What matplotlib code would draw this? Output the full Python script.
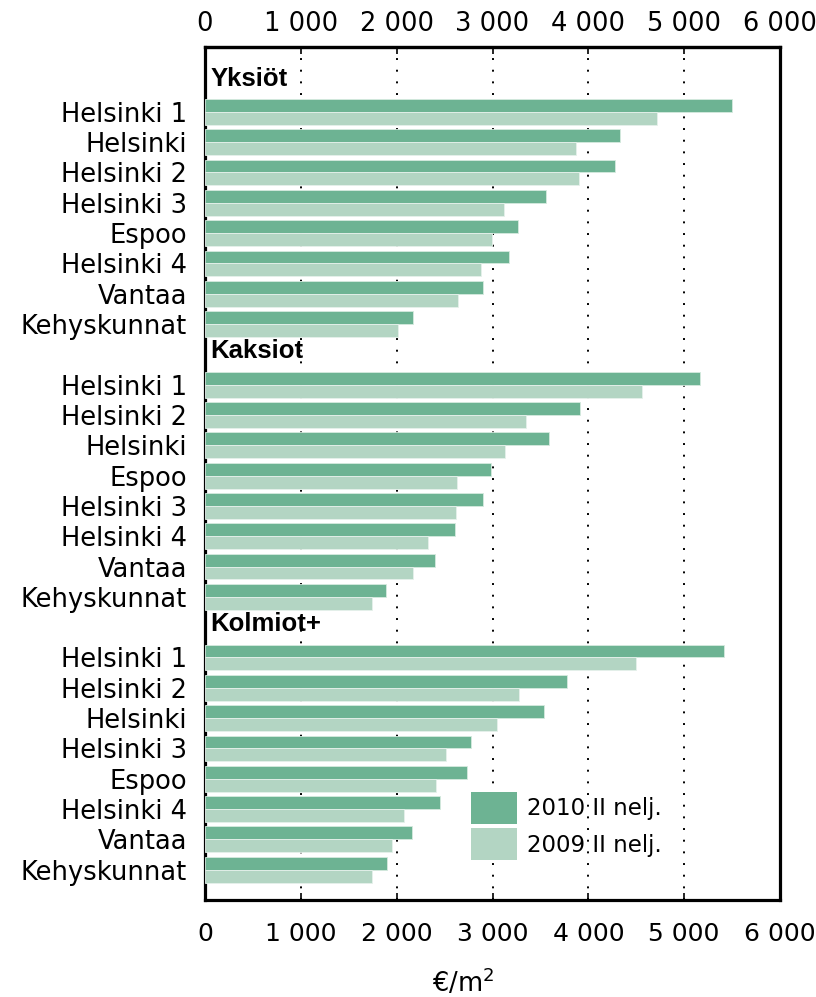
import numpy as np
import matplotlib
matplotlib.use("Agg")
import matplotlib.pyplot as plt
from matplotlib.patches import Patch

# --- Data ---

groups = ["Yksiöt", "Kaksiot", "Kolmiot+"]

yksiot_labels = ["Helsinki 1", "Helsinki", "Helsinki 2", "Helsinki 3",
                 "Espoo", "Helsinki 4", "Vantaa", "Kehyskunnat"]
yksiot_2010 = [5500, 4330, 4280, 3555, 3265, 3170, 2900, 2175]
yksiot_2009 = [4715, 3875, 3905, 3125, 2995, 2885, 2640, 2015]

kaksiot_labels = ["Helsinki 1", "Helsinki 2", "Helsinki", "Espoo",
                  "Helsinki 3", "Helsinki 4", "Vantaa", "Kehyskunnat"]
kaksiot_2010 = [5165, 3910, 3585, 2985, 2905, 2605, 2400, 1885]
kaksiot_2009 = [4555, 3345, 3130, 2625, 2615, 2325, 2175, 1745]

kolmiot_labels = ["Helsinki 1", "Helsinki 2", "Helsinki", "Helsinki 3",
                  "Espoo", "Helsinki 4", "Vantaa", "Kehyskunnat"]
kolmiot_2010 = [5420, 3775, 3540, 2775, 2735, 2450, 2155, 1900]
kolmiot_2009 = [4495, 3280, 3050, 2515, 2415, 2080, 1955, 1745]

series_names = ["2010 II nelj.", "2009 II nelj."]
xticks = [0, 1000, 2000, 3000, 4000, 5000, 6000]
xtick_labels = ["0", "1 000", "2 000", "3 000", "4 000", "5 000", "6 000"]

col_2010 = "#6db393"
col_2009 = "#b3d5c3"

# --- Build rows: header slot followed by the group's categories ---

sections = [
    (groups[0], yksiot_labels, yksiot_2010, yksiot_2009),
    (groups[1], kaksiot_labels, kaksiot_2010, kaksiot_2009),
    (groups[2], kolmiot_labels, kolmiot_2010, kolmiot_2009),
]

header_pos = []
row_pos, row_labels, vals_2010, vals_2009 = [], [], [], []
slot = 0
for name, labels, v10, v09 in sections:
    header_pos.append((slot, name))
    slot += 1
    for lab, a, b in zip(labels, v10, v09):
        row_pos.append(slot)
        row_labels.append(lab)
        vals_2010.append(a)
        vals_2009.append(b)
        slot += 1
row_pos = np.array(row_pos)

# --- Plot ---

fig = plt.figure(figsize=(8.16, 9.97), dpi=100)
ax = fig.add_axes([205 / 816, 97 / 997, 575 / 816, 853 / 997])

bh = 0.425
ax.barh(row_pos - bh / 2, vals_2010, height=bh, color=col_2010,
        edgecolor="#d6eadf", linewidth=0.6, zorder=3)
ax.barh(row_pos + bh / 2, vals_2009, height=bh, color=col_2009,
        edgecolor="#e6f1eb", linewidth=0.6, zorder=3)

for y, name in header_pos:
    ax.text(60, y - 0.1, name, ha="left", va="center", fontsize=18.5,
            fontweight="bold", family="Liberation Sans", zorder=4)

for x in xticks[1:-1]:
    ax.axvline(x, color="black", linestyle=(0, (1, 5)), linewidth=1.4, zorder=1)

ax.set_xlim(0, 6000)
ax.set_ylim(slot, -1.14)

ax.set_yticks(row_pos)
ax.set_yticklabels(row_labels, fontsize=18.5)
ax.tick_params(axis="y", length=0, pad=13)

ax.set_xticks(xticks)
ax.set_xticklabels(xtick_labels, fontsize=18)
ax.tick_params(axis="x", direction="in", length=5, width=1.2,
               top=False, bottom=True, pad=16)

top = ax.secondary_xaxis("top")
top.set_xticks(xticks)
top.set_xticklabels(xtick_labels, fontsize=18.5)
top.tick_params(axis="x", direction="in", length=5, width=1.2, pad=7)
top.spines["top"].set_linewidth(2.3)

for sp in ax.spines.values():
    sp.set_linewidth(2.3)
    sp.set_color("black")

fig.text(463 / 816, 1 - 983 / 997, "€/m$^2$", ha="center", va="center",
         fontsize=18.5)

handles = [Patch(facecolor=col_2010, edgecolor="none"),
           Patch(facecolor=col_2009, edgecolor="none")]
ax.legend(handles, series_names, loc="upper left",
          bbox_to_anchor=((471 - 205) / 575, (900 - 792) / 853),
          frameon=False, fontsize=16.5, borderpad=0, borderaxespad=0,
          handlelength=2.0, handleheight=1.75, handletextpad=0.45,
          labelspacing=0.2)

fig.savefig("out.png", dpi=100)
